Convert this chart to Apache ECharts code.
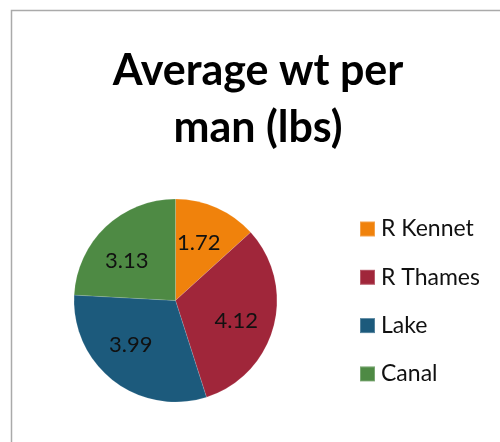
<!DOCTYPE html>
<html><head><meta charset="utf-8">
<script src="https://cdn.jsdelivr.net/npm/echarts@6/dist/echarts.min.js"></script>
<style>html,body{margin:0;padding:0;background:#fff}#c{width:500px;height:442px}</style>
</head><body><div id="c"></div>
<script>
var categories = ['R Kennet', 'R Thames', 'Lake', 'Canal'];
var values = [1.72, 4.12, 3.99, 3.13];
var colors = ['#F0820C', '#A0263A', '#1C5A7C', '#4E8A44'];
var titleText = 'Average wt per\nman (lbs)';
// label nudges (style only)
var labelNudge = [[-3, 2], [-2, 4], [-5, -7], [-4, 8]];

var chart = echarts.init(document.getElementById('c'), null, {renderer: 'canvas'});
var data = categories.map(function (n, i) { return {name: n, value: values[i], itemStyle: {color: colors[i]}}; });
var labelData = categories.map(function (n, i) { return {name: n, value: values[i], label: {offset: labelNudge[i]}}; });
var font = 'Lato, "Open Sans", sans-serif';
chart.setOption({
  animation: false,
  graphic: [{type: 'rect', shape: {x: 11.5, y: 10.5, width: 600, height: 600}, style: {fill: 'none', stroke: '#AAAAAA', lineWidth: 1.5}, silent: true}],
  title: {text: titleText, left: 253, top: 38, textAlign: 'center',
    textStyle: {fontFamily: font, fontWeight: 'bold', fontSize: 43, lineHeight: 57, color: '#000'}},
  legend: {orient: 'vertical', left: 354, top: 212, itemWidth: 15, itemHeight: 15, itemGap: 24.3,
    icon: 'rect', data: categories,
    textStyle: {fontFamily: font, fontSize: 23, lineHeight: 24, color: '#111', padding: [0, 0, 0, 1]}},
  series: [{
    type: 'pie', center: [175.5, 300.5], radius: [0, 101.5], startAngle: 90, clockwise: true,
    data: data, label: {show: false}, labelLine: {show: false},
    itemStyle: {borderColor: 'rgba(255,255,255,0.25)', borderWidth: 0.5}, silent: true
  }, {
    type: 'pie', center: [175.5, 300.5], radius: [0, 124], startAngle: 90, clockwise: true,
    data: labelData, legendHoverLink: false, silent: true,
    itemStyle: {color: 'rgba(0,0,0,0)'},
    label: {show: true, position: 'inside', formatter: function (p) { return p.value.toFixed(2); },
      fontFamily: font, fontSize: 22, color: '#111'},
    labelLine: {show: false}
  }]
});
</script></body></html>
